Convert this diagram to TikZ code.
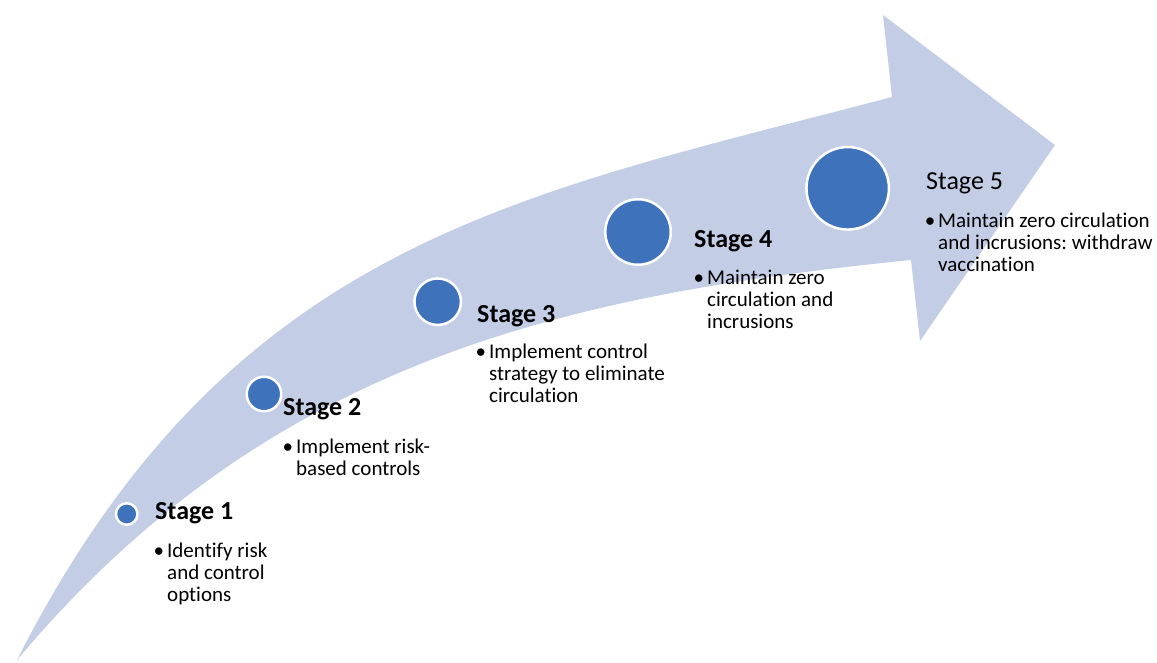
\documentclass[tikz,border=0pt]{standalone}
\usepackage{fontspec}
\setmainfont{Carlito}[Ligatures=NoCommon]
\frenchspacing
\definecolor{arrowfill}{HTML}{C3CDE6}
\definecolor{dotfill}{HTML}{3E72BB}
\newcommand{\bodylines}[1]{\llap{\textbullet\hspace{3pt}}\begin{tabular}[t]{@{}l@{}}#1\end{tabular}}
\begin{document}
\begin{tikzpicture}[x=1pt,y=-1pt,
  dotnode/.style={circle,fill=dotfill,draw=white,line width=2.5pt,inner sep=0pt},
  stagebold/.style={anchor=base west,inner sep=0pt,font=\fontsize{26}{30}\selectfont\bfseries},
  stageplain/.style={anchor=base west,inner sep=0pt,font=\fontsize{26}{30}\selectfont},
  bodytext/.style={anchor=base west,inner sep=0pt,font=\fontsize{21}{22}\selectfont}]
\useasboundingbox (0,0) rectangle (1157,662);
% curved arrow
\fill[arrowfill] (17,660) .. controls (230,240) and (520,195) .. (892,97)
  -- (883,15) -- (1055,145) -- (920,341) -- (911,260)
  .. controls (562,295) and (267,362) .. (17,660) -- cycle;
% stage dots
\node[dotnode,minimum size=21.5pt] (c1) at (126.7,514) {};
\node[dotnode,minimum size=34.5pt] (c2) at (264,394) {};
\node[dotnode,minimum size=46.5pt] (c3) at (437.7,301.7) {};
\node[dotnode,minimum size=65.5pt] (c4) at (638,232) {};
\node[dotnode,minimum size=82.5pt] (c5) at (847.7,188.3) {};
% stage titles
\node[stagebold] (s1) at (155,519) {Stage 1};
\node[stagebold] (s2) at (283,415) {Stage 2};
\node[stagebold] (s3) at (477,322) {Stage 3};
\node[stagebold] (s4) at (694,247) {Stage 4};
\node[stageplain] (s5) at (926,189) {Stage 5};
% descriptions
\node[bodytext] (b1) at (167,557) {\bodylines{Identify risk\\and control\\options}};
\node[bodytext] (b2) at (296,453) {\bodylines{Implement risk-\\based controls}};
\node[bodytext] (b3) at (489,358) {\bodylines{Implement control\\strategy to eliminate\\circulation}};
\node[bodytext] (b4) at (707,284) {\bodylines{Maintain zero\\circulation and\\incrusions}};
\node[bodytext] (b5) at (938,227) {\bodylines{Maintain zero circulation\\and incrusions: withdraw\\vaccination}};
\end{tikzpicture}
\end{document}
